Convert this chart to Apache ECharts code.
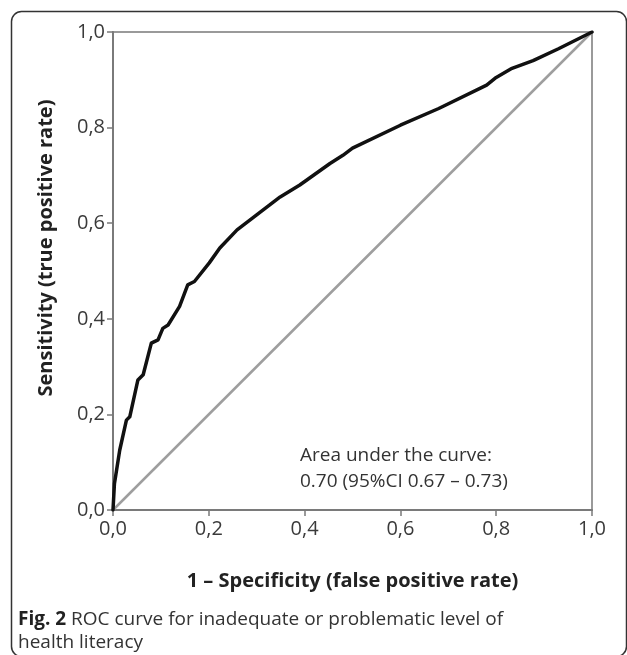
<!DOCTYPE html>
<html>
<head>
<meta charset="utf-8">
<script src="https://cdn.jsdelivr.net/npm/echarts@6/dist/echarts.min.js"></script>
<style>
html,body{margin:0;padding:0;background:#fff;}
#chart{width:627px;height:655px;}
</style>
</head>
<body>
<div id="chart"></div>
<script>
// ROC curve points (1 - specificity, sensitivity)
var fpr = [0, 0.003, 0.014, 0.028, 0.035, 0.052, 0.063, 0.080, 0.094, 0.104, 0.115, 0.139, 0.156, 0.170, 0.201, 0.223, 0.259, 0.349, 0.390, 0.453, 0.480, 0.500, 0.600, 0.680, 0.780, 0.800, 0.833, 0.877, 0.930, 1.0];
var tpr = [0, 0.055, 0.125, 0.188, 0.195, 0.272, 0.283, 0.349, 0.356, 0.380, 0.387, 0.426, 0.471, 0.478, 0.517, 0.548, 0.586, 0.655, 0.680, 0.725, 0.742, 0.757, 0.805, 0.840, 0.889, 0.905, 0.924, 0.940, 0.965, 1.0];
// reference diagonal
var diagX = [0, 1];
var diagY = [0, 1];
var xName = '1 \u2013 Specificity (false positive rate)';
var yName = 'Sensitivity (true positive rate)';
var aucLines = ['Area under the curve:', '0.70 (95%CI 0.67 \u2013 0.73)'];
var captionBold = 'Fig. 2';
var captionRest = ' ROC curve for inadequate or problematic level of';
var captionLine2 = 'health literacy';

var rocData = fpr.map(function (x, i) { return [x, tpr[i]]; });
var diagData = diagX.map(function (x, i) { return [x, diagY[i]]; });

function fmt(v) { return v.toFixed(1).replace('.', ','); }

var font = '"Open Sans", "Liberation Sans", sans-serif';

var chart = echarts.init(document.getElementById('chart'), null, {renderer: 'canvas'});
chart.setOption({
  animation: false,
  backgroundColor: '#fff',
  grid: {
    left: 113, top: 32, width: 479, height: 478,
    show: true, borderColor: '#9a9a9a', borderWidth: 2, backgroundColor: 'transparent'
  },
  xAxis: {
    type: 'value', min: 0, max: 1, interval: 0.2,
    axisLine: {show: true, lineStyle: {color: '#7a7a7a', width: 2}},
    axisTick: {show: true, inside: false, length: 6, lineStyle: {color: '#7a7a7a', width: 1.5}},
    splitLine: {show: false},
    axisLabel: {formatter: fmt, color: '#3a3a3a', fontSize: 20, fontFamily: font, margin: 9},
    name: xName, nameLocation: 'middle', nameGap: 61,
    nameTextStyle: {color: '#222', fontSize: 20, fontWeight: 'bold', fontFamily: font}
  },
  yAxis: {
    type: 'value', min: 0, max: 1, interval: 0.2,
    axisLine: {show: true, lineStyle: {color: '#7a7a7a', width: 2}},
    axisTick: {show: true, inside: false, length: 6, lineStyle: {color: '#7a7a7a', width: 1.5}},
    splitLine: {show: false},
    axisLabel: {formatter: fmt, color: '#3a3a3a', fontSize: 20, fontFamily: font, margin: 8}
  },
  series: [
    {
      type: 'line', data: diagData, showSymbol: false, silent: true,
      lineStyle: {color: '#9e9e9e', width: 2.5}, z: 2
    },
    {
      type: 'line', data: rocData, showSymbol: false, silent: true, smooth: false,
      lineStyle: {color: '#111', width: 3.5, join: 'round', cap: 'round'}, z: 3
    }
  ],
  graphic: [
    {
      type: 'rect', left: 9, top: 9, z: -1, silent: true,
      shape: {width: 615, height: 645, r: 10},
      style: {fill: 'none', stroke: '#333', lineWidth: 1.5}
    },
    {
      type: 'text', x: 46, y: 248, rotation: Math.PI / 2, silent: true,
      style: {text: yName, fill: '#222', font: 'bold 20px ' + font, align: 'center', verticalAlign: 'middle'}
    },
    {
      type: 'text', x: 300, y: 456, silent: true,
      style: {text: aucLines[0], fill: '#333', font: '19px ' + font, align: 'left', verticalAlign: 'middle'}
    },
    {
      type: 'text', x: 300, y: 482, silent: true,
      style: {text: aucLines[1], fill: '#333', font: '19px ' + font, align: 'left', verticalAlign: 'middle'}
    },
    {
      type: 'text', x: 18, y: 620, silent: true,
      style: {
        text: '{b|' + captionBold + '}{r|' + captionRest + '}',
        verticalAlign: 'middle',
        rich: {
          b: {fontFamily: font, fontSize: 19, fontWeight: 'bold', fill: '#222'},
          r: {fontFamily: font, fontSize: 19, fill: '#333'}
        }
      }
    },
    {
      type: 'text', x: 18, y: 643, silent: true,
      style: {text: captionLine2, fill: '#333', font: '19px ' + font, verticalAlign: 'middle'}
    }
  ]
});
</script>
</body>
</html>
